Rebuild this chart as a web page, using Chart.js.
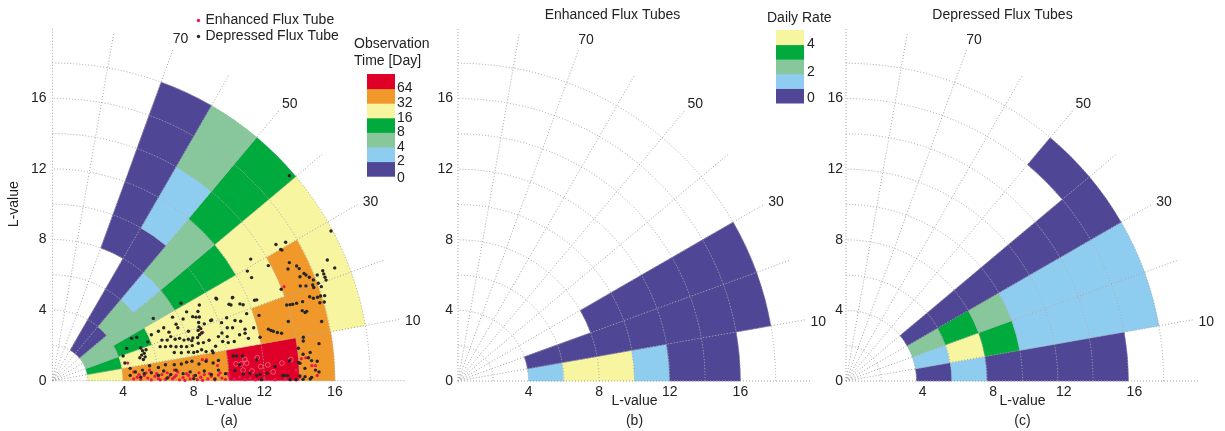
<!DOCTYPE html>
<html>
<head>
<meta charset="utf-8">
<script src="https://cdn.jsdelivr.net/npm/chart.js@4.4.1/dist/chart.umd.min.js"></script>
<style>
  body { margin: 0; background: #fff; }
  #wrap { position: relative; width: 1225px; height: 431px; }
  canvas { position: absolute; left: 0; top: 0; }
</style>
</head>
<body>
<div id="wrap">
  <canvas id="chartA" width="1225" height="431"></canvas>
  <canvas id="chartB" width="1225" height="431"></canvas>
  <canvas id="chartC" width="1225" height="431"></canvas>
</div>
<script>
// ---- bins and axes ----
const rBins = [2, 4, 6, 8, 10, 12, 14, 16, 18];      // L-value bin edges
const angBins = [0, 10, 20, 30, 40, 50, 60, 70];      // angle bin edges [deg]
const spokeAngles = [0, 10, 20, 30, 40, 50, 60, 70, 80, 90];
const ringValues = [2, 4, 6, 8, 10, 12, 14, 16, 18];
const spokeLabels = [10, 30, 50, 70];
const xTickVals = [4, 8, 12, 16];
const yTickVals = [0, 4, 8, 12, 16];

// colour classes, lowest first
const palette = ['#4f4795', '#8fcdf0', '#88c79b', '#00aa3c', '#f7f5a0', '#f0992a', '#de0029'];
const obsLevels = [0, 2, 4, 8, 16, 32, 64];
const obsLabels = ['0', '2', '4', '8', '16', '32', '64'];
const rateLevels = [0, 1, 2, 3, 4];
const rateLabels = ['0', '2', '4'];

// (a) observation time [day]; rows = angle bins, columns = L bins from 2
const obsDays = [
  [20, 45, 40, 50, 90, 80, 40, null],
  [10, 20, 22, 25, 18, 40, 36, 20],
  [6, 12, 24, 28, 20, 18, 45, 17],
  [5, 6, 7, 12, 10, 20, 24, 18],
  [1, 5, 3, 6, 6, 10, 12, 9],
  [1, 1, 1.5, 1, 3, 2.5, 5, 6],
  [null, null, null, 1, 1.5, 1, 1, 1]
];

// (b) enhanced flux tubes, daily rate
const enhancedRate = [
  [null, 1.5, 4.5, 4.4, 1.5, 0.5, 0.4, null],
  [null, 0.3, 0.4, 0.2, 0.5, 0.3, 0.6, 0.4],
  [null, null, null, 0.2, 0.3, 0.4, 0.2, 0.5]
];

// (c) depressed flux tubes, daily rate
const depressedRate = [
  [null, 0.5, 1.5, 0.4, 0.6, 0.3, 0.5, null],
  [null, 1.5, 4.5, 3.5, 1.5, 1.4, 1.6, 1.3],
  [null, 2.5, 3.5, 2.5, 1.5, 1.6, 1.4, 1.5],
  [null, 0.5, 0.4, 0.6, 0.3, 0.5, 0.4, 0.2],
  [null, null, null, null, null, null, null, 0.3]
];

// (a) events [L_x, L_y]
const depressedPts = [
  [13.42,11.61],[15.78,8.48],[12.66,7.72],[12.93,7.44],[13.21,7.84],[13.0,7.40],[11.23,6.89],[11.04,6.21],
  [11.28,5.84],[12.23,6.52],[13.42,6.69],[13.83,6.50],[13.98,6.35],[13.34,6.33],[15.57,6.84],[15.99,6.39],
  [14.02,5.89],[14.25,6.08],[14.36,5.99],[14.55,5.86],[14.78,5.71],[15.0,5.99],[14.74,5.42],[14.36,5.37],
  [14.04,5.37],[15.06,5.52],[15.23,5.33],[15.31,6.23],[15.37,6.05],[15.44,5.86],[15.5,5.70],[12.96,5.18],
  [9.26,4.67],[10.19,4.70],[13.27,4.29],[13.46,4.31],[13.61,4.33],[13.83,4.39],[14.17,4.48],[14.31,3.86],
  [14.15,3.97],[14.4,3.93],[14.57,4.76],[14.78,4.67],[15.02,4.73],[15.19,4.80],[15.42,4.82],[15.15,4.42],
  [15.40,4.46],[14.8,5.28],[13.36,3.35],[15.25,3.35],
  [10.21,4.72],[10.0,4.33],[10.11,4.29],[10.62,4.35],[11.45,4.56],[11.57,4.58],[8.32,4.29],[8.24,3.92],
  [7.94,3.63],[8.13,3.60],[8.32,3.61],[8.6,3.22],[8.96,3.41],[9.58,3.29],[9.87,3.57],[10.34,3.41],
  [10.66,3.37],[10.91,2.92],[10.91,2.69],[10.30,2.22],[9.96,2.16],[9.64,2.22],[8.87,2.29],[8.55,2.16],
  [8.26,2.12],[7.89,2.27],[7.92,1.99],[8.21,1.65],[8.45,1.75],[8.7,1.65],[9.05,1.69],[9.24,1.95],[11.76,2.46],
  [12.23,2.92],[12.38,2.84],[12.51,2.80],[12.74,2.73],[12.98,2.69],[14.21,2.46],[14.21,2.25],[13.93,1.84],
  [15.1,2.1],[14.6,1.6],
  [10.24,1.40],[10.43,1.40],[10.77,1.40],[11.57,1.18],[13.42,1.12],[13.93,1.03],[14.02,0.99],[14.68,1.14],
  [11.19,0.42],[11.57,0.29],[11.76,0.36],[13.04,0.29],[13.14,0.29],[13.32,0.29],[14.02,0.27],[14.31,0.23],
  [14.68,0.19],[13.46,0.06],[13.8,0.05],[14.2,0.08],[14.6,0.1],[12.17,0.42],[10.34,0.57],[10.81,0.38],
  [11.85,0.06],[10.6,0.9],[12.6,0.8],[14.9,0.6],
  [8.28,3.3],[8.3,3.05],[8.25,2.85],[8.33,2.6],[8.22,2.45],[8.4,2.95],[8.45,2.7],[7.28,4.39],[5.71,3.53],
  [9.3,4.63],[9.02,3.44],
  [6.7,2.5],[6.5,2.3],[6.2,2.3],[6.95,2.35],[7.2,2.4],[7.45,2.3],[7.7,2.35],[7.95,2.42],
  [6.1,1.93],[6.4,1.93],[6.7,1.95],[7.0,1.92],[7.3,1.94],[7.6,1.93],
  [6.9,1.6],[7.3,1.58],[7.7,1.62],[8.0,1.6],[9.1,1.58],
  [4.2,1.83],[4.48,2.4],[4.77,2.46],
  [5.0,1.85],[5.1,1.7],[5.2,1.55],[5.05,1.45],[5.25,1.35],[5.15,1.2],[4.95,1.3],[5.3,1.75],[4.0,1.4],[4.1,1.0],
  [4.4,0.7],[5.1,0.6],[5.5,0.85],[6.0,0.75],[6.4,0.9],[6.9,0.9],[7.3,0.95],[7.6,1.05],[7.9,1.1],[8.3,0.95],
  [8.7,1.1],[9.1,1.0],[9.4,1.15],
  [5.6,2.6],[5.4,2.2],[6.0,2.8],[6.3,3.0],[6.6,2.75],[7.0,3.2],[7.4,3.5],[7.1,3.0],[7.7,2.8],[6.8,3.6],
  [7.6,3.9],[9.6,2.7],[9.9,2.5],[10.2,3.0],[9.4,2.5],[9.9,3.0],[10.6,2.6],[11.1,2.4],[11.4,3.0],[11.0,3.8],
  [11.7,3.7],[10.8,4.3],
  [4.4,0.3],[4.7,0.5],[5.2,0.4],[5.6,0.45],[6.0,0.3],[6.3,0.55],[6.7,0.35],[7.0,0.6],[7.4,0.4],[7.8,0.5],
  [8.1,0.3],[8.6,0.55],[9.0,0.35],[9.4,0.6],[9.8,0.4],[5.0,0.2],[6.5,0.15],[8.0,0.12],[9.2,0.1],
  [14.3,0.7],[14.5,1.3],[15.0,1.1],[14.2,1.5],[15.1,0.5]
];

const enhancedPts = [
  [13.12,5.33],[8.51,2.74],[4.26,1.0],[8.49,1.19],[8.73,1.19],[9.35,0.86],[14.1,1.25],[14.35,1.3],
  [14.7,0.85],[14.9,0.85],[13.8,0.6],[4.6,0.5],[6.9,0.6],[5.5,0.6],[15.0,0.3],[14.0,0.2],
  [4.6,0.1],[4.8,0.2],[5.0,0.08],[5.2,0.3],[5.4,0.15],[5.6,0.05],[5.8,0.25],[6.0,0.12],[6.2,0.35],
  [6.4,0.08],[6.6,0.22],[6.8,0.1],[7.0,0.3],[7.2,0.05],[7.4,0.18],[7.6,0.4],[7.8,0.1],[8.0,0.28],
  [8.2,0.06],[8.4,0.2],[8.6,0.35],[8.8,0.1],[9.0,0.25],[9.2,0.05],[9.4,0.32],[9.6,0.15],[9.8,0.08],
  [10.0,0.28],[10.3,0.1],[10.6,0.2],[10.9,0.06],[11.2,0.15],[11.5,0.05],[12.0,0.1],[12.6,0.05],[13.2,0.12],
  [4.9,0.35],[5.3,0.45],[5.9,0.4],[6.5,0.45],[7.1,0.5],[7.7,0.3],[8.3,0.45],[8.9,0.4],[9.5,0.45],
  [6.1,0.05],[6.9,0.2],[7.5,0.02],[8.5,0.02],[9.9,0.4]
];

const enhancedFaint = [
  [10.4,0.95],[10.7,0.95],[11.0,1.0],[11.6,1.3],[12.2,0.9],[13.0,1.0],[13.5,1.2],[10.8,0.6],
  [11.3,0.55],[12.5,0.5],[10.9,1.2],[11.8,0.8]
];

const FONT = '"Liberation Sans", Arial, Helvetica, sans-serif';
const TXT = '#222';
Chart.defaults.font.family = FONT;
Chart.defaults.font.size = 14;
Chart.defaults.color = TXT;

function levelColor(v, levels) {
  let k = 0;
  for (let i = 0; i < levels.length; i++) if (v >= levels[i]) k = i;
  return palette[k];
}
const toRad = d => d * Math.PI / 180;

// draws the binned sectors, the dotted polar grid, colour bar and legend
const polarCells = {
  id: 'polarCells',
  beforeDatasetsDraw(chart, args, opts) {
    const {ctx, scales: {x, y}} = chart;
    const cx = x.getPixelForValue(0), cy = y.getPixelForValue(0);
    const R = v => x.getPixelForValue(v) - cx;
    ctx.save();
    opts.cells.forEach((row, i) => row.forEach((v, j) => {
      if (v == null) return;
      const a0 = toRad(angBins[i]), a1 = toRad(angBins[i + 1]);
      ctx.beginPath();
      ctx.arc(cx, cy, R(rBins[j + 1]), -a0, -a1, true);
      ctx.arc(cx, cy, R(rBins[j]), -a1, -a0, false);
      ctx.closePath();
      const c = levelColor(v, opts.levels);
      ctx.fillStyle = c;
      ctx.strokeStyle = c;
      ctx.lineWidth = 0.5;
      ctx.fill();
      ctx.stroke();
    }));
    ctx.strokeStyle = '#a3a3a3';
    ctx.lineWidth = 1;
    ctx.setLineDash([1, 2]);
    ringValues.forEach(r => {
      ctx.beginPath();
      ctx.arc(cx, cy, R(r), 0, -Math.PI / 2, true);
      ctx.stroke();
    });
    spokeAngles.forEach(a => {
      const rr = R(20);
      ctx.beginPath();
      ctx.moveTo(cx, cy);
      ctx.lineTo(cx + rr * Math.cos(toRad(a)), cy - rr * Math.sin(toRad(a)));
      ctx.stroke();
    });
    ctx.setLineDash([]);
    ctx.fillStyle = TXT;
    ctx.font = '14px ' + FONT;
    ctx.textAlign = 'center';
    ctx.textBaseline = 'middle';
    spokeLabels.forEach(a => {
      const rr = R(20.7), t = toRad(a - 0.5);
      ctx.fillText(String(a), cx + rr * Math.cos(t), cy - rr * Math.sin(t) + 1);
    });
    ctx.restore();
  },
  afterDraw(chart, args, opts) {
    const {ctx} = chart;
    ctx.save();
    ctx.font = '14px ' + FONT;
    ctx.textBaseline = 'middle';
    ctx.textAlign = 'left';
    const cb = opts.colorbar;
    if (cb) {
      const n = cb.levels.length;
      cb.levels.forEach((lv, i) => {
        ctx.fillStyle = palette[i];
        ctx.fillRect(cb.x, cb.top + (n - 1 - i) * cb.bandH, cb.w, cb.bandH + 0.5);
      });
      ctx.fillStyle = TXT;
      cb.labels.forEach((t, i) => ctx.fillText(t, cb.labelX, cb.labelY[i]));
      cb.title.forEach((t, i) => ctx.fillText(t, cb.titleX, cb.titleY[i]));
    }
    const lg = opts.legend;
    if (lg) {
      lg.order.forEach((label, i) => {
        const d = chart.data.datasets.find(ds => ds.label === label);
        ctx.beginPath();
        ctx.fillStyle = d.backgroundColor;
        ctx.arc(lg.x, lg.y[i], 1.7, 0, Math.PI * 2);
        ctx.fill();
        ctx.fillStyle = TXT;
        ctx.fillText(d.label, lg.x + 7, lg.y[i]);
      });
    }
    ctx.restore();
  }
};

function scalesFor(p) {
  return {
    x: {
      type: 'linear', min: 0, max: 20,
      grid: {display: false, drawTicks: false}, border: {display: false},
      afterBuildTicks: s => { s.ticks = xTickVals.map(v => ({value: v})); },
      afterFit: s => { s.height = p.xh; },
      ticks: {padding: 3, labelOffset: p.xOff || 0, color: TXT, font: {size: 14}},
      title: {display: true, text: ['L-value', p.tag], color: TXT,
              font: {size: 14, lineHeight: '20px'}, padding: 0}
    },
    y: {
      type: 'linear', min: 0, max: 20,
      grid: {display: false, drawTicks: false}, border: {display: false},
      afterBuildTicks: s => { s.ticks = yTickVals.map(v => ({value: v})); },
      afterFit: s => { s.width = p.yw; },
      ticks: {padding: p.yPad, color: TXT, font: {size: 14}},
      title: {display: !!p.yTitle, text: 'L-value', color: TXT, font: {size: 14},
              padding: {top: 5.6, bottom: 0}}
    }
  };
}

const pts = arr => arr.map(([x, y]) => ({x, y}));

function makeChart(id, p) {
  return new Chart(document.getElementById(id), {
    type: 'scatter',
    data: {datasets: p.datasets || []},
    options: {
      responsive: false, animation: false, devicePixelRatio: 1,
      layout: {padding: p.padding},
      scales: scalesFor(p),
      plugins: {
        legend: {display: false},
        tooltip: {enabled: false},
        title: p.title
          ? {display: true, text: p.title, color: TXT, font: {size: 14, weight: 'normal'},
             padding: {top: 7, bottom: 4}}
          : {display: false},
        polarCells: {cells: p.cells, levels: p.levels, colorbar: p.colorbar, legend: p.legend}
      }
    },
    plugins: [polarCells]
  });
}

makeChart('chartA', {
  padding: {left: 0, right: 819.5, top: 27.7, bottom: 0},
  xh: 50.3, yw: 52.5, yPad: 6, yTitle: true, tag: '(a)',
  cells: obsDays, levels: obsLevels,
  colorbar: {x: 367, top: 74, w: 28, bandH: 14.6, levels: obsLevels, labels: obsLabels,
             labelX: 397, labelY: [178, 161.5, 147, 132.5, 118, 103, 88.5],
             title: ['Observation', 'Time [Day]'], titleX: 354, titleY: [44, 61]},
  legend: {x: 198.5, y: [20.5, 36.5], order: ['Enhanced Flux Tube', 'Depressed Flux Tube']},
  datasets: [
    {label: 'Depressed Flux Tube', data: pts(depressedPts), backgroundColor: '#262626',
     borderWidth: 0, pointRadius: 1.7, clip: false, order: 0},
    {label: 'Enhanced Flux Tube', data: pts(enhancedPts), backgroundColor: '#e8194d',
     borderWidth: 0, pointRadius: 1.6, clip: false, order: 1},
    {label: 'Enhanced (faint)', data: pts(enhancedFaint), backgroundColor: 'rgba(0,0,0,0)',
     borderColor: 'rgba(240,120,140,0.9)', borderWidth: 0.8, pointRadius: 2.4, clip: false, order: 2}
  ]
});

makeChart('chartB', {
  padding: {left: 414, right: 414, top: 0, bottom: 0},
  xh: 50, yw: 44, yPad: 5, tag: '(b)', title: 'Enhanced Flux Tubes',
  cells: enhancedRate, levels: rateLevels,
  colorbar: {x: 776, top: 30, w: 28, bandH: 14.6, levels: rateLevels, labels: rateLabels,
             labelX: 807, labelY: [98, 72, 44], title: ['Daily Rate'], titleX: 767, titleY: [18]}
});

makeChart('chartC', {
  padding: {left: 806, right: 26, top: 0, bottom: 0},
  xh: 50, yw: 40, yPad: 3, xOff: 6, tag: '(c)', title: 'Depressed Flux Tubes',
  cells: depressedRate, levels: rateLevels
});
</script>
</body>
</html>
